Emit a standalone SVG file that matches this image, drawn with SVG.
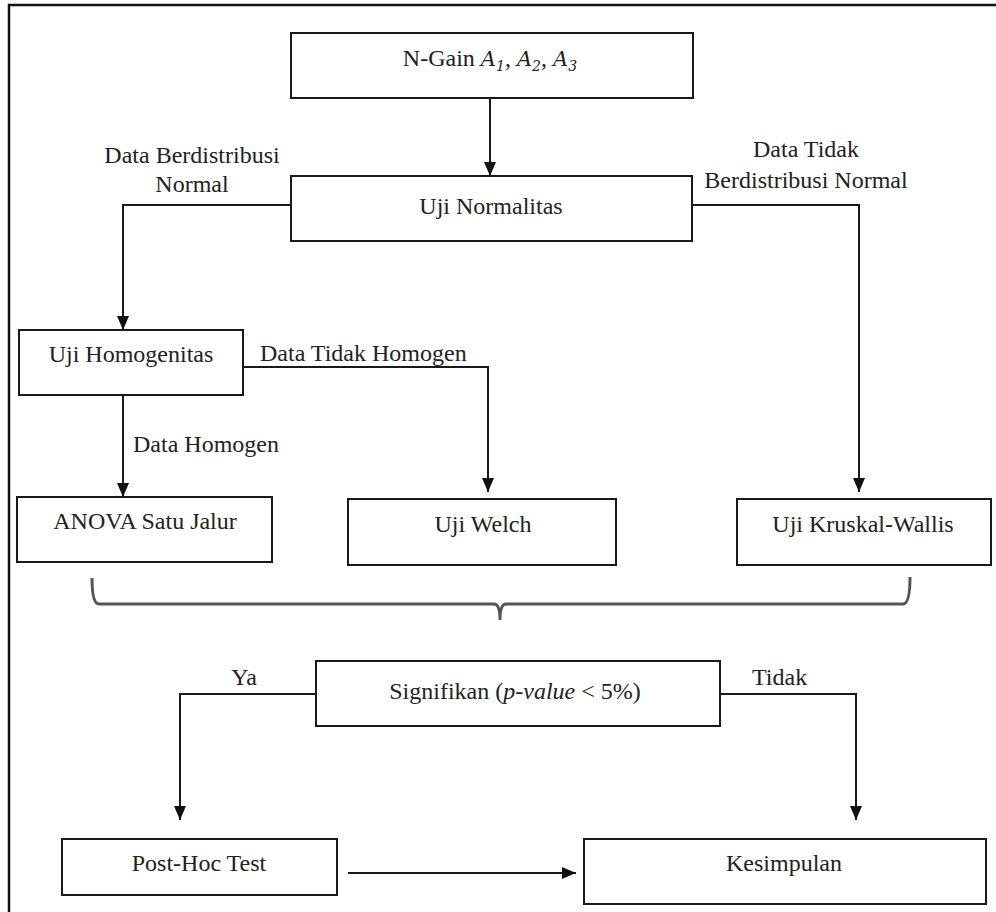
<svg xmlns="http://www.w3.org/2000/svg" width="996" height="912" viewBox="0 0 996 912">
<defs>
<style>
.box{fill:#fff;stroke:#1a1a1a;stroke-width:2}
.ln{fill:none;stroke:#1a1a1a;stroke-width:2}
.t{font-family:"Liberation Serif","Times New Roman",serif;font-size:24px;fill:#222}
.c{text-anchor:middle}
.m{font-family:"DejaVu Serif","Liberation Serif",serif;font-style:italic;font-size:21px}
.s{font-size:14px}
</style>
<marker id="ahL" viewBox="0 0 14 12" refX="14" refY="6" markerWidth="14" markerHeight="12" markerUnits="userSpaceOnUse" orient="auto">
<path d="M0,0 L14,6 L0,12 z" fill="#111"/>
</marker>
</defs>
<rect x="0" y="0" width="996" height="912" fill="#fff"/>
<rect x="9" y="5" width="1000" height="920" fill="none" stroke="#111" stroke-width="2.5"/>

<g id="connectors">
<line class="ln" x1="490" y1="98" x2="490" y2="176" marker-end="url(#ahL)"/>
<polyline class="ln" points="291,205 123,205 123,330" marker-end="url(#ahL)"/>
<polyline class="ln" points="692,205 859,205 859,492" marker-end="url(#ahL)"/>
<polyline class="ln" points="243,367 488,367 488,492" marker-end="url(#ahL)"/>
<line class="ln" x1="123" y1="395" x2="123" y2="497" marker-end="url(#ahL)"/>
<path d="M92,578 C92,590 93,604 99,604 L494,604 C498,604 500,608 500,620 C500,608 502,604 506,604 L903,604 C909,604 910,590 910,577" fill="none" stroke="#555" stroke-width="3"/>
<polyline class="ln" points="316,694 180,694 180,820" marker-end="url(#ahL)"/>
<polyline class="ln" points="720,694 856,694 856,820" marker-end="url(#ahL)"/>
<line class="ln" x1="348" y1="873" x2="576" y2="873" marker-end="url(#ahL)"/>
</g>

<g id="lbl">
<text class="t c" x="192" y="163">Data Berdistribusi</text>
<text class="t c" x="192" y="192">Normal</text>
<text class="t c" x="806" y="157">Data Tidak</text>
<text class="t c" x="806" y="188">Berdistribusi Normal</text>
<text class="t" x="260" y="361">Data Tidak Homogen</text>
<text class="t" x="133" y="452">Data Homogen</text>
<text class="t c" x="244" y="685">Ya</text>
<text class="t" x="752" y="685">Tidak</text>
</g>

<g id="ngain">
<rect class="box" x="291" y="33" width="402" height="65"/>
<text class="t c" x="490" y="66">N-Gain <tspan class="m">A</tspan><tspan class="m s" dy="5">1</tspan><tspan dy="-5">, </tspan><tspan class="m">A</tspan><tspan class="m s" dy="5">2</tspan><tspan dy="-5">, </tspan><tspan class="m">A</tspan><tspan class="m s" dy="5">3</tspan></text>
</g>
<g id="normalitas">
<rect class="box" x="291" y="176" width="401" height="65"/>
<text class="t c" x="491" y="214">Uji Normalitas</text>
</g>
<g id="homogenitas">
<rect class="box" x="19" y="330" width="224" height="65"/>
<text class="t c" x="131" y="362">Uji Homogenitas</text>
</g>
<g id="anova">
<rect class="box" x="17" y="497" width="255" height="65"/>
<text class="t c" x="145" y="529">ANOVA Satu Jalur</text>
</g>
<g id="welch">
<rect class="box" x="348" y="499" width="268" height="66"/>
<text class="t c" x="483" y="532">Uji Welch</text>
</g>
<g id="kruskal">
<rect class="box" x="737" y="499" width="254" height="66"/>
<text class="t c" x="863" y="532">Uji Kruskal-Wallis</text>
</g>
<g id="signifikan">
<rect class="box" x="316" y="661" width="404" height="65"/>
<text class="t c" x="515" y="699">Signifikan (<tspan font-style="italic">p-value</tspan> &lt; 5%)</text>
</g>
<g id="posthoc">
<rect class="box" x="62" y="839" width="275" height="56"/>
<text class="t c" x="199" y="871">Post-Hoc Test</text>
</g>
<g id="kesimpulan">
<rect class="box" x="584" y="839" width="402" height="65"/>
<text class="t c" x="784" y="871">Kesimpulan</text>
</g>
</svg>
